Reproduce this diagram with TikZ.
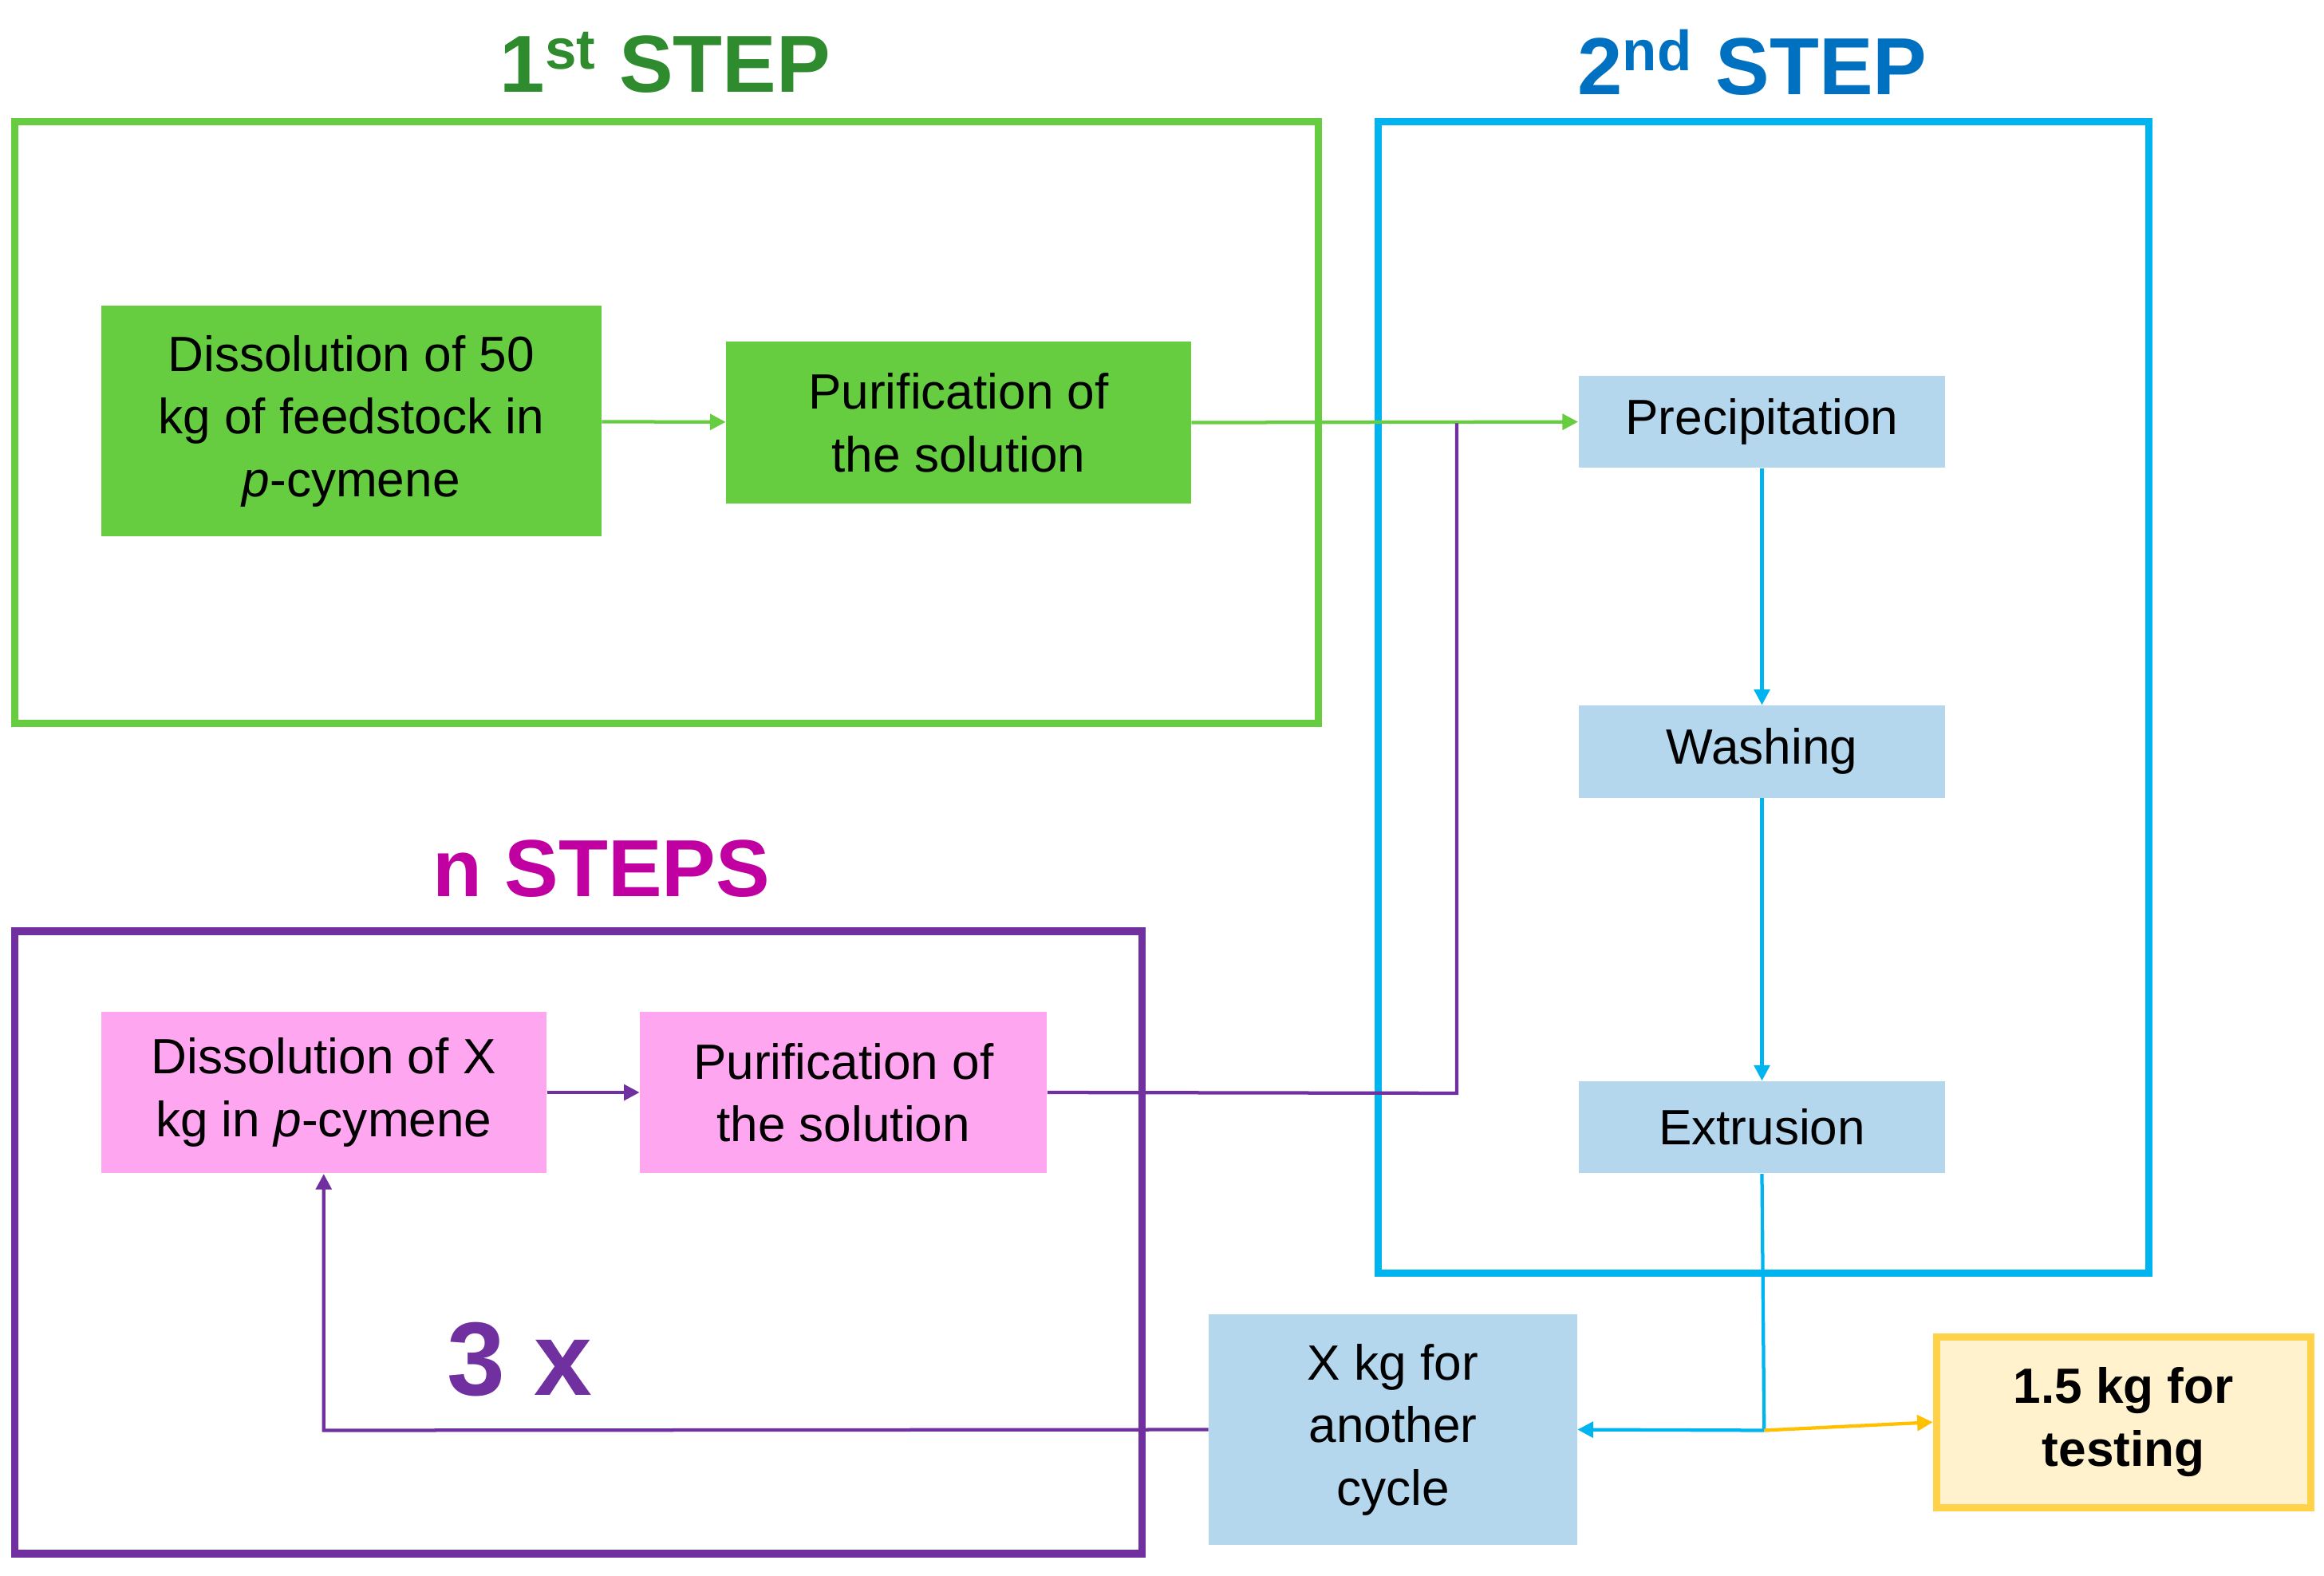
\documentclass[tikz,border=0pt]{standalone}
\usepackage{fontspec}
\setmainfont{Liberation Sans}
\usetikzlibrary{arrows.meta}
\definecolor{gfill}{HTML}{66CC40}
\definecolor{gline}{HTML}{66CC40}
\definecolor{gtitle}{HTML}{2E8B2E}
\definecolor{bline}{HTML}{00B4F0}
\definecolor{btitle}{HTML}{0070C0}
\definecolor{bfill}{HTML}{B4D7EE}
\definecolor{pline}{HTML}{7030A0}
\definecolor{ptitle}{HTML}{C000A0}
\definecolor{pfill}{HTML}{FFA6F0}
\definecolor{yfill}{HTML}{FFF2CC}
\definecolor{yline}{HTML}{FFD24A}
\definecolor{oline}{HTML}{FFC000}
\begin{document}
\begin{tikzpicture}[x=0.02cm,y=-0.02cm,
 box/.style={inner sep=0pt,align=center,font=\fontsize{19}{24}\selectfont},
 frame/.style={line width=2.8pt},
 title/.style={font=\fontsize{31}{36}\selectfont\bfseries},
 con/.style={line width=1.3pt,-{Triangle[length=6pt,width=6pt]}}]
\useasboundingbox (0,0) rectangle (1565,1061);
\draw[frame,gline] (10,82) rectangle (888,487);
\draw[frame,bline] (928,82) rectangle (1447,857);
\draw[frame,pline] (10,627) rectangle (769,1046);
\node[title,gtitle] (t1) at (448,42) {1\textsuperscript{st} STEP};
\node[title,btitle] (t2) at (1180,42) {2\textsuperscript{nd} STEP};
\node[title,ptitle] (t3) at (405,585) {n STEPS};
\node[title,pline,font=\fontsize{40}{44}\selectfont\bfseries] (t4) at (350,915) {3 x};
\node[box,fill=gfill,minimum width=6.74cm,minimum height=3.1cm] (d1) at (236.5,283.5) {Dissolution of 50\\kg of feedstock in\\\textit{p}-cymene};
\node[box,fill=gfill,minimum width=6.26cm,minimum height=2.18cm] (p1) at (645.5,284.5) {Purification of\\the solution};
\node[box,fill=bfill,minimum width=4.94cm,minimum height=1.24cm] (prec) at (1186.5,284) {Precipitation};
\node[box,fill=bfill,minimum width=4.94cm,minimum height=1.24cm] (wash) at (1186.5,506) {Washing};
\node[box,fill=bfill,minimum width=4.94cm,minimum height=1.24cm] (extr) at (1186.5,759) {Extrusion};
\node[box,fill=bfill,minimum width=4.96cm,minimum height=3.1cm] (xkg) at (938,962.5) {X kg for\\another\\cycle};
\node[box,fill=yfill,draw=yline,line width=2.8pt,minimum width=5.04cm,minimum height=2.3cm,font=\fontsize{19}{24}\selectfont\bfseries] (test) at (1430,957.5) {1.5 kg for\\testing};
\node[box,fill=pfill,minimum width=6cm,minimum height=2.18cm] (d2) at (218,735.5) {Dissolution of X\\kg in \textit{p}-cymene};
\node[box,fill=pfill,minimum width=5.48cm,minimum height=2.18cm] (p2) at (568,735.5) {Purification of\\the solution};
\coordinate (j1) at (981,285);
\coordinate (j2) at (981,736);
\coordinate (j3) at (1188,963);
\coordinate (j4) at (218,963);
\draw[con,gline] (d1) -- (p1);
\draw[con,gline] (p1.east) -- (prec.west);
\draw[line width=1.3pt,pline] (p2.east) -- (j2) -- (j1);
\draw[con,pline] (d2) -- (p2);
\draw[con,bline] (prec) -- (wash);
\draw[con,bline] (wash) -- (extr);
\draw[line width=1.3pt,bline] (extr.south) -- (j3);
\draw[con,bline] (j3) -- (xkg.east);
\draw[con,oline] (j3) -- (test.west);
\draw[con,pline] (xkg.west) -- (j4) -- (d2.south);
\end{tikzpicture}
\end{document}
